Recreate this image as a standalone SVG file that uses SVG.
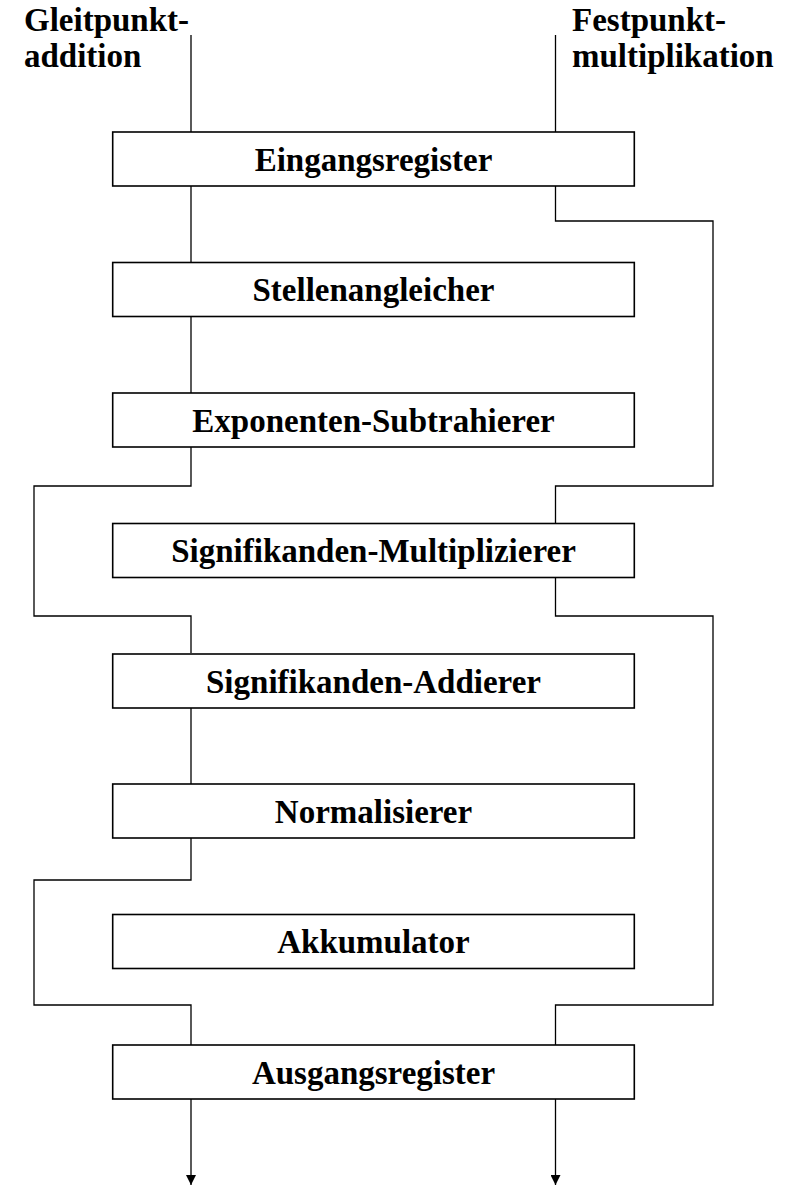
<svg xmlns="http://www.w3.org/2000/svg" width="796" height="1186" viewBox="0 0 796 1186">
  <style>
    .box { fill: #ffffff; stroke: #000000; stroke-width: 1.6; }
    .lbl { font-family: "Liberation Serif", "Times New Roman", serif; font-weight: bold; font-size: 33px; fill: #000000; }
    .mid { text-anchor: middle; }
    .wire { fill: none; stroke: #000000; stroke-width: 1.3; }
  </style>
  <defs>
    <marker id="arrow" markerWidth="10" markerHeight="10" refX="10" refY="5" orient="auto" markerUnits="userSpaceOnUse">
      <path d="M0,0 L10,5 L0,10 Z" fill="#000000"/>
    </marker>
  </defs>
  <rect width="796" height="1186" fill="#ffffff"/>

  <!-- input labels -->
  <g id="in-gleitpunkt">
    <text class="lbl" x="24" y="31">Gleitpunkt-</text>
    <text class="lbl" x="24" y="67">addition</text>
  </g>
  <g id="in-festpunkt">
    <text class="lbl" x="572" y="31">Festpunkt-</text>
    <text class="lbl" x="572" y="67">multiplikation</text>
  </g>

  <!-- data paths -->
  <g id="connectors">
    <!-- floating-point addition path (left) -->
    <path class="wire" d="M191,35 V132"/>
    <path class="wire" d="M191,186 V262"/>
    <path class="wire" d="M191,317 V393"/>
    <path class="wire" d="M191,447 V486 H34 V616 H191 V653"/>
    <path class="wire" d="M191,708 V784"/>
    <path class="wire" d="M191,838 V880 H34 V1005 H191 V1045"/>
    <path class="wire" d="M191,1099 V1185" marker-end="url(#arrow)"/>
    <!-- fixed-point multiplication path (right) -->
    <path class="wire" d="M555.5,35 V132"/>
    <path class="wire" d="M555.5,186 V221 H713 V486 H555.5 V523"/>
    <path class="wire" d="M555.5,578 V616 H713 V1005 H555.5 V1045"/>
    <path class="wire" d="M555.5,1099 V1185" marker-end="url(#arrow)"/>
  </g>

  <!-- pipeline stages -->
  <g id="eingangsregister">
    <rect class="box" x="112.7" y="132" width="521.6" height="54"/>
    <text class="lbl mid" x="373.5" y="170.5">Eingangsregister</text>
  </g>
  <g id="stellenangleicher">
    <rect class="box" x="112.7" y="262.5" width="521.6" height="54"/>
    <text class="lbl mid" x="373.5" y="301">Stellenangleicher</text>
  </g>
  <g id="exponenten-subtrahierer">
    <rect class="box" x="112.7" y="393" width="521.6" height="54"/>
    <text class="lbl mid" x="373.5" y="431.5">Exponenten-Subtrahierer</text>
  </g>
  <g id="signifikanden-multiplizierer">
    <rect class="box" x="112.7" y="523.5" width="521.6" height="54"/>
    <text class="lbl mid" x="373.5" y="562">Signifikanden-Multiplizierer</text>
  </g>
  <g id="signifikanden-addierer">
    <rect class="box" x="112.7" y="654" width="521.6" height="54"/>
    <text class="lbl mid" x="373.5" y="692.5">Signifikanden-Addierer</text>
  </g>
  <g id="normalisierer">
    <rect class="box" x="112.7" y="784" width="521.6" height="54"/>
    <text class="lbl mid" x="373.5" y="822.5">Normalisierer</text>
  </g>
  <g id="akkumulator">
    <rect class="box" x="112.7" y="914.5" width="521.6" height="54"/>
    <text class="lbl mid" x="373.5" y="953">Akkumulator</text>
  </g>
  <g id="ausgangsregister">
    <rect class="box" x="112.7" y="1045" width="521.6" height="54"/>
    <text class="lbl mid" x="373.5" y="1083.5">Ausgangsregister</text>
  </g>
</svg>
